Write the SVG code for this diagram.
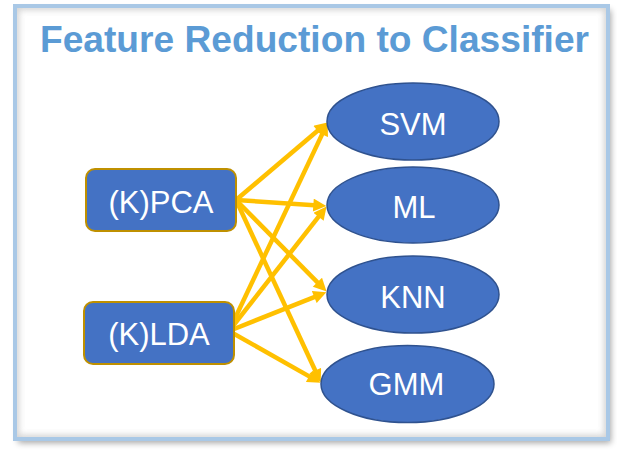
<svg xmlns="http://www.w3.org/2000/svg" width="617" height="455" viewBox="0 0 617 455">
  <defs>
    <style>
      .title { font-family: "Liberation Sans", Arial, sans-serif; font-weight: bold; font-size: 37px; fill: #5B9BD5; }
      .label { font-family: "Liberation Sans", Arial, sans-serif; font-size: 31px; fill: #FFFFFF; text-anchor: middle; }
      .box { fill: #4472C4; stroke: #BF9000; stroke-width: 2; }
      .oval { fill: #4472C4; stroke: #2F528F; stroke-width: 1.5; }
      .arrow { stroke: #FFC000; stroke-width: 4.5; fill: none; marker-end: url(#head); }
    </style>
    <marker id="head" viewBox="0 0 10 10" refX="3.6" refY="5" markerWidth="14" markerHeight="13" markerUnits="userSpaceOnUse" orient="auto">
      <path d="M0,0 L10,5 L0,10 z" fill="#FFC000"/>
    </marker>
    <filter id="shadow" x="-5%" y="-5%" width="110%" height="112%">
      <feGaussianBlur in="SourceAlpha" stdDeviation="3"/>
      <feOffset dx="3" dy="4" result="b"/>
      <feComponentTransfer><feFuncA type="linear" slope="0.35"/></feComponentTransfer>
      <feMerge><feMergeNode/><feMergeNode in="SourceGraphic"/></feMerge>
    </filter>
    <filter id="inner" x="-5%" y="-5%" width="110%" height="110%">
      <feGaussianBlur stdDeviation="3"/>
    </filter>
    <clipPath id="frameClip"><rect x="15" y="6" width="593" height="433"/></clipPath>
  </defs>

  <g id="frame">
    <rect x="15" y="6" width="593" height="433" fill="#FFFFFF" filter="url(#shadow)"/>
    <g clip-path="url(#frameClip)">
      <rect x="15" y="6" width="593" height="433" fill="none" stroke="#BFBFBF" stroke-width="8" filter="url(#inner)" opacity="0.7"/>
    </g>
    <rect x="15" y="6" width="593" height="433" fill="none" stroke="#A9C8E6" stroke-width="4"/>
  </g>

  <g id="title">
    <text class="title" x="40" y="52" textLength="549" lengthAdjust="spacingAndGlyphs">Feature Reduction to Classifier</text>
  </g>

  <g id="connectors">
    <line class="arrow" x1="236" y1="200" x2="321.1" y2="127.8"/>
    <line class="arrow" x1="236" y1="200" x2="318.0" y2="205.4"/>
    <line class="arrow" x1="236" y1="200" x2="320.7" y2="285.6"/>
    <line class="arrow" x1="236" y1="200" x2="317.2" y2="374.8"/>
    <line class="arrow" x1="229" y1="331" x2="324.1" y2="130.1"/>
    <line class="arrow" x1="229" y1="331" x2="321.4" y2="213.1"/>
    <line class="arrow" x1="229" y1="331" x2="318.6" y2="295.3"/>
    <line class="arrow" x1="229" y1="331" x2="313.2" y2="378.6"/>
  </g>

  <g id="node-kpca">
    <rect class="box" x="86" y="169" width="150" height="62" rx="9"/>
    <text class="label" x="161" y="213">(K)PCA</text>
  </g>
  <g id="node-klda">
    <rect class="box" x="84" y="302" width="150" height="62" rx="9"/>
    <text class="label" x="159" y="345">(K)LDA</text>
  </g>

  <g id="node-svm">
    <ellipse class="oval" cx="413" cy="121.5" rx="86" ry="38.5"/>
    <text class="label" x="413" y="135">SVM</text>
  </g>
  <g id="node-ml">
    <ellipse class="oval" cx="413" cy="205" rx="86" ry="38"/>
    <text class="label" x="414" y="218">ML</text>
  </g>
  <g id="node-knn">
    <ellipse class="oval" cx="413" cy="294.5" rx="86" ry="38.5"/>
    <text class="label" x="413" y="308">KNN</text>
  </g>
  <g id="node-gmm">
    <ellipse class="oval" cx="407.5" cy="384" rx="86.5" ry="38.5"/>
    <text class="label" x="406.5" y="395">GMM</text>
  </g>
</svg>
